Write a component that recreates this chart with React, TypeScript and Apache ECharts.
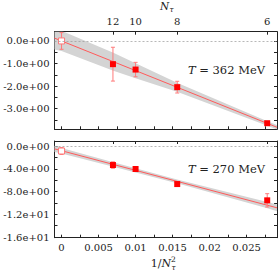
import React, { useEffect, useRef } from 'react';
import * as echarts from 'echarts';

// ---------- axes ----------
const X_MIN = -0.00095;
const X_MAX = 0.0291;
const xTickVals = [0, 0.0025, 0.005, 0.0075, 0.01, 0.0125, 0.015, 0.0175, 0.02, 0.0225, 0.025, 0.0275];
const xLabelVals = [0, 0.005, 0.01, 0.015, 0.02, 0.025];
const xLabels = ['0', '0.005', '0.01', '0.015', '0.02', '0.025'];
const nTauVals = [0.006944, 0.01, 0.015625, 0.027778];
const nTauLabels = ['12', '10', '8', '6'];

const topYMin = -3.92;
const topYMax = 0.41;
const topYTicks = [-3.5, -3, -2.5, -2, -1.5, -1, -0.5, 0];
const topYLabelVals = [-3, -2, -1, 0];
const topYLabels = ['-3.0e+00', '-2.0e+00', '-1.0e+00', '0.0e+00'];

const botYMin = -16.1;
const botYMax = 0.88;
const botYTicks = [-16, -14, -12, -10, -8, -6, -4, -2, 0];
const botYLabelVals = [-16, -12, -8, -4, 0];
const botYLabels = ['-1.6e+01', '-1.2e+01', '-8.0e+00', '-4.0e+00', '0.0e+00'];

// ---------- T = 362 MeV ----------
const hiX = [0.006944, 0.01, 0.015625, 0.027778];
const hiY = [-1.03, -1.27, -2.05, -3.65];
const hiErr = [0.75, 0.32, 0.26, 0.06];
const hiExtX = [0];
const hiExtY = [0.0];
const hiExtErr = [0.37];
const hiFitX = [-0.00095, 0.0291];
const hiFitY = [0.125, -3.83];
const hiBandX = [-0.00095, 0, 0.007, 0.01, 0.0156, 0.0278, 0.0291];
const hiBandLo = [-0.375, -0.45, -1.32, -1.65, -2.25, -3.76, -3.93];
const hiBandHi = [0.625, 0.45, -0.52, -0.99, -1.85, -3.56, -3.73];

// ---------- T = 270 MeV ----------
const loX = [0.006944, 0.01, 0.015625, 0.027778];
const loY = [-3.34, -4.04, -6.68, -9.54];
const loErr = [0.55, 0.25, 0.3, 1.17];
const loExtX = [0];
const loExtY = [-0.88];
const loExtErr = [0.6];
const loFitX = [-0.00095, 0.0291];
const loFitY = [-0.5, -10.85];
const loBandX = [-0.00095, 0, 0.007, 0.0156, 0.0278, 0.0291];
const loBandLo = [-1.05, -1.33, -3.64, -6.53, -10.95, -11.45];
const loBandHi = [0.05, -0.33, -2.84, -5.87, -9.85, -10.25];

// ---------- style ----------
const FONT = 'DejaVu Serif';
const AXIS_COLOR = '#222';
const LINE_RED = '#ff5a5a';
const ERR_RED = '#ff7a7a';
const BAND_GRAY = '#d4d4d4';

const lookup = (vals: number[], labels: string[]) => (v: number) => {
  const i = vals.findIndex((t) => Math.abs(t - v) < 1e-7);
  return i >= 0 ? labels[i] : '';
};

const axisLineCfg = { show: true, onZero: false, lineStyle: { color: AXIS_COLOR, width: 1 } };
const labelFont = { fontFamily: FONT, fontSize: 10, color: AXIS_COLOR };

function makeX(gridIndex: number, position: 'top' | 'bottom', ticks: number[], labelVals: number[] | null, labels: string[] | null) {
  return {
    type: 'value',
    gridIndex,
    position,
    min: X_MIN,
    max: X_MAX,
    axisLine: axisLineCfg,
    splitLine: { show: false },
    axisTick: { show: true, inside: true, length: 3, customValues: ticks, lineStyle: { color: AXIS_COLOR } },
    axisLabel: labelVals
      ? { show: true, customValues: labelVals, formatter: lookup(labelVals, labels as string[]), margin: 5, ...labelFont }
      : { show: false },
  };
}

function makeY(gridIndex: number, position: 'left' | 'right', min: number, max: number, ticks: number[], labelVals: number[] | null, labels: string[] | null) {
  return {
    type: 'value',
    gridIndex,
    position,
    min,
    max,
    axisLine: axisLineCfg,
    splitLine: { show: false },
    axisTick: { show: true, inside: true, length: 3, customValues: ticks, lineStyle: { color: AXIS_COLOR } },
    axisLabel: labelVals
      ? { show: true, customValues: labelVals, formatter: lookup(labelVals, labels as string[]), margin: 5, ...labelFont }
      : { show: false },
  };
}

function bandSeries(xAxisIndex: number, yAxisIndex: number, bx: number[], lo: number[], hi: number[]) {
  return {
    type: 'custom',
    xAxisIndex,
    yAxisIndex,
    z: 1,
    clip: true,
    silent: true,
    encode: { x: 0, y: 1 },
    data: [[bx[0], lo[0]]],
    renderItem: (_params: any, api: any) => {
      const upper = bx.map((x, i) => api.coord([x, hi[i]]));
      const lower = bx.map((x, i) => api.coord([x, lo[i]])).reverse();
      return {
        type: 'polygon',
        shape: { points: [...upper, ...lower] },
        style: { fill: BAND_GRAY, stroke: 'none' },
      };
    },
  };
}

function errorBarSeries(xAxisIndex: number, yAxisIndex: number, xs: number[], ys: number[], es: number[], z: number) {
  return {
    type: 'custom',
    xAxisIndex,
    yAxisIndex,
    z,
    clip: true,
    silent: true,
    encode: { x: 0, y: 1 },
    data: xs.map((x, i) => [x, ys[i], es[i]]),
    renderItem: (_params: any, api: any) => {
      const x = api.value(0);
      const y = api.value(1);
      const e = api.value(2);
      const t = api.coord([x, y + e]);
      const b = api.coord([x, y - e]);
      const w = 2;
      const st = { stroke: ERR_RED, lineWidth: 1 };
      return {
        type: 'group',
        children: [
          { type: 'line', shape: { x1: t[0], y1: t[1], x2: b[0], y2: b[1] }, style: st },
          { type: 'line', shape: { x1: t[0] - w, y1: t[1], x2: t[0] + w, y2: t[1] }, style: st },
          { type: 'line', shape: { x1: b[0] - w, y1: b[1], x2: b[0] + w, y2: b[1] }, style: st },
        ],
      };
    },
  };
}

function panelSeries(
  xi: number,
  yi: number,
  bandX: number[],
  bandLo: number[],
  bandHi: number[],
  fitX: number[],
  fitY: number[],
  px: number[],
  py: number[],
  pe: number[],
  ex: number[],
  ey: number[],
  ee: number[]
) {
  return [
    bandSeries(xi, yi, bandX, bandLo, bandHi),
    {
      type: 'line',
      xAxisIndex: xi,
      yAxisIndex: yi,
      symbol: 'none',
      silent: true,
      z: 2,
      lineStyle: { color: LINE_RED, width: 1 },
      data: fitX.map((x, i) => [x, fitY[i]]),
      markLine: {
        silent: true,
        symbol: 'none',
        label: { show: false },
        lineStyle: { type: [2, 2], color: '#999', width: 0.7 },
        data: [{ yAxis: 0 }],
      },
    },
    errorBarSeries(xi, yi, px, py, pe, 3),
    errorBarSeries(xi, yi, ex, ey, ee, 3),
    {
      type: 'scatter',
      xAxisIndex: xi,
      yAxisIndex: yi,
      symbol: 'rect',
      symbolSize: 6,
      z: 4,
      itemStyle: { color: '#ff0000', opacity: 1 },
      data: px.map((x, i) => [x, py[i]]),
    },
    {
      type: 'scatter',
      xAxisIndex: xi,
      yAxisIndex: yi,
      symbol: 'rect',
      symbolSize: 6,
      z: 4,
      itemStyle: { color: '#ffffff', borderColor: ERR_RED, borderWidth: 1, opacity: 1 },
      data: ex.map((x, i) => [x, ey[i]]),
    },
  ];
}

const GRID_LEFT = 54.5;
const GRID_WIDTH = 222.5;

const option: any = {
  animation: false,
  backgroundColor: '#ffffff',
  grid: [
    { left: GRID_LEFT, top: 31.7, width: GRID_WIDTH, height: 97.6 },
    { left: GRID_LEFT, top: 141, width: GRID_WIDTH, height: 96.7 },
  ],
  xAxis: [
    makeX(0, 'bottom', xTickVals, null, null),
    makeX(0, 'top', nTauVals, nTauVals, nTauLabels),
    makeX(1, 'bottom', xTickVals, xLabelVals, xLabels),
    makeX(1, 'top', nTauVals, null, null),
  ],
  yAxis: [
    makeY(0, 'left', topYMin, topYMax, topYTicks, topYLabelVals, topYLabels),
    makeY(0, 'right', topYMin, topYMax, topYTicks, null, null),
    makeY(1, 'left', botYMin, botYMax, botYTicks, botYLabelVals, botYLabels),
    makeY(1, 'right', botYMin, botYMax, botYTicks, null, null),
  ],
  series: [
    ...panelSeries(0, 0, hiBandX, hiBandLo, hiBandHi, hiFitX, hiFitY, hiX, hiY, hiErr, hiExtX, hiExtY, hiExtErr),
    ...panelSeries(2, 2, loBandX, loBandLo, loBandHi, loFitX, loFitY, loX, loY, loErr, loExtX, loExtY, loExtErr),
  ],
  graphic: [
    {
      type: 'text',
      x: 226.5,
      y: 70,
      z: 10,
      style: {
        text: '{i|T} = 362 MeV',
        fontFamily: FONT,
        fontSize: 11.5,
        fill: AXIS_COLOR,
        align: 'center',
        verticalAlign: 'middle',
        rich: { i: { fontStyle: 'italic', fontFamily: FONT, fontSize: 11.5, fill: AXIS_COLOR } },
      },
    },
    {
      type: 'text',
      x: 226.5,
      y: 169.3,
      z: 10,
      style: {
        text: '{i|T} = 270 MeV',
        fontFamily: FONT,
        fontSize: 11.5,
        fill: AXIS_COLOR,
        align: 'center',
        verticalAlign: 'middle',
        rich: { i: { fontStyle: 'italic', fontFamily: FONT, fontSize: 11.5, fill: AXIS_COLOR } },
      },
    },
    {
      type: 'text',
      x: 164.7,
      y: 5.5,
      style: { text: 'N', fontFamily: FONT, fontStyle: 'italic', fontSize: 10.5, fill: AXIS_COLOR, align: 'center', verticalAlign: 'middle' },
    },
    {
      type: 'text',
      x: 171.5,
      y: 9.5,
      style: { text: 'τ', fontFamily: FONT, fontStyle: 'italic', fontSize: 7.5, fill: AXIS_COLOR, align: 'center', verticalAlign: 'middle' },
    },
    {
      type: 'text',
      x: 161,
      y: 263,
      style: {
        text: '1/{i|N}',
        fontFamily: FONT,
        fontSize: 11,
        fill: AXIS_COLOR,
        align: 'center',
        verticalAlign: 'middle',
        rich: { i: { fontStyle: 'italic', fontFamily: FONT, fontSize: 11, fill: AXIS_COLOR } },
      },
    },
    {
      type: 'text',
      x: 173.5,
      y: 259,
      style: { text: '2', fontFamily: FONT, fontSize: 7.5, fill: AXIS_COLOR, align: 'center', verticalAlign: 'middle' },
    },
    {
      type: 'text',
      x: 173.5,
      y: 267.5,
      style: { text: 'τ', fontFamily: FONT, fontStyle: 'italic', fontSize: 7.5, fill: AXIS_COLOR, align: 'center', verticalAlign: 'middle' },
    },
  ],
};

export default function App() {
  const ref = useRef<HTMLDivElement>(null);
  useEffect(() => {
    if (!ref.current) return;
    const chart = echarts.init(ref.current, null, { renderer: 'svg' });
    chart.setOption(option);
    return () => {
      chart.dispose();
    };
  }, []);
  return (
    <div
      ref={ref}
      style={{ position: 'fixed', left: 0, top: 0, width: 278, height: 271, background: '#ffffff' }}
    />
  );
}
